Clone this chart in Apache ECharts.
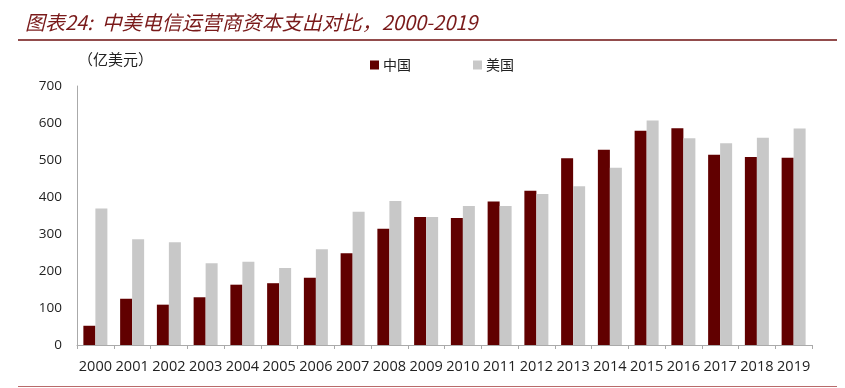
<!DOCTYPE html>
<html>
<head>
<meta charset="utf-8">
<script src="https://cdn.jsdelivr.net/npm/echarts@6/dist/echarts.min.js"></script>
<style>html,body{margin:0;padding:0;background:#fff;}#c{width:845px;height:388px;}</style>
</head>
<body>
<div id="c"></div>
<script>
const years = ['2000','2001','2002','2003','2004','2005','2006','2007','2008','2009','2010','2011','2012','2013','2014','2015','2016','2017','2018','2019'];
const china = [52,125,109,129,163,167,182,248,314,346,343,388,417,505,528,579,586,514,508,506];
const usa = [369,286,278,221,225,208,259,360,389,346,376,376,408,429,479,607,559,545,560,585];
const yTicks = [0,100,200,300,400,500,600,700];
const titleText = '图表24:  中美电信运营商资本支出对比，2000-2019';
const unitText = '（亿美元）';

const chart = echarts.init(document.getElementById('c'));
chart.setOption({
  animation: false,
  backgroundColor: '#fff',
  title: {
    text: titleText,
    left: 20, top: 7,
    textStyle: { fontFamily: '"Noto Sans CJK SC", "Noto Sans", sans-serif', fontStyle: 'italic', fontWeight: 'normal', fontSize: 20, color: '#7a1a1a' }
  },
  graphic: [
    { type: 'line', shape: { x1: 18, y1: 40, x2: 837, y2: 40 }, style: { stroke: '#6e1010', lineWidth: 1.5 } },
    { type: 'line', shape: { x1: 18, y1: 386.5, x2: 837, y2: 386.5 }, style: { stroke: '#b86a6a', lineWidth: 1.2 } },
    { type: 'text', left: 78, top: 52, style: { text: unitText, font: '15px "Noto Sans CJK SC", sans-serif', fill: '#222' } }
  ],
  legend: {
    left: 365, top: 53,
    itemWidth: 9, itemHeight: 9, itemGap: 62,
    icon: 'rect',
    textStyle: { fontFamily: '"Noto Sans CJK SC", sans-serif', fontSize: 14, color: '#222', padding: [0,0,0,-1] },
    data: ['中国', '美国']
  },
  grid: { left: 77, right: 33, top: 86, bottom: 43, containLabel: false },
  xAxis: {
    type: 'category', data: years,
    axisLine: { lineStyle: { color: '#aaa', width: 1 } },
    axisTick: { show: true, length: 4, lineStyle: { color: '#aaa' } },
    axisLabel: { color: '#222', fontSize: 14.5, fontFamily: '"Open Sans", "Liberation Sans", sans-serif', margin: 14, interval: 0 }
  },
  yAxis: {
    type: 'value', min: 0, max: 700, interval: 100,
    axisLine: { show: true, lineStyle: { color: '#aaa', width: 1 } },
    axisTick: { show: false },
    splitLine: { show: false },
    axisLabel: { color: '#222', fontSize: 13.5, fontFamily: '"Open Sans", "Liberation Sans", sans-serif', margin: 15,
      formatter: v => yTicks.includes(v) ? String(v) : '' }
  },
  series: [
    { name: '中国', type: 'bar', data: china, barWidth: 12, barGap: '0%', itemStyle: { color: '#610000' } },
    { name: '美国', type: 'bar', data: usa, barWidth: 12, barGap: '0%', itemStyle: { color: '#c8c8c8' } }
  ]
});
</script>
</body>
</html>
